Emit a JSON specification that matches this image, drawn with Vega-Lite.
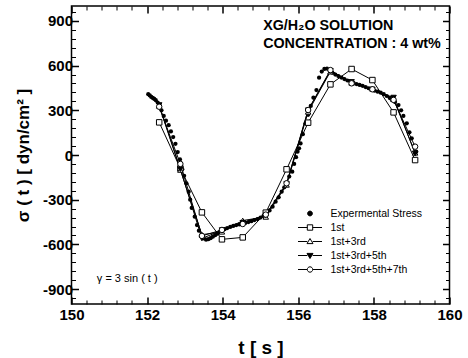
{
  "$schema": "https://vega.github.io/schema/vega-lite/v6.json",
  "autosize": "none",
  "width": 378,
  "height": 298,
  "padding": {"left": 71.5, "top": 6, "right": 18.5, "bottom": 54},
  "background": "white",
  "config": {
    "view": {"stroke": "black", "strokeWidth": 1.5},
    "font": "Liberation Sans",
    "axis": {"grid": false, "domain": false, "tickColor": "black", "labelColor": "black", "titleColor": "black", "labelFont": "Liberation Sans", "titleFont": "Liberation Sans", "labelFlush": false}
  },
  "datasets": {
    "exp": [
      {"t": 152.03, "sigma": 408}, {"t": 152.07, "sigma": 400}, {"t": 152.11, "sigma": 390}, {"t": 152.15, "sigma": 383},
      {"t": 152.19, "sigma": 376}, {"t": 152.23, "sigma": 368}, {"t": 152.28, "sigma": 352}, {"t": 152.33, "sigma": 330},
      {"t": 152.38, "sigma": 300}, {"t": 152.44, "sigma": 262}, {"t": 152.50, "sigma": 230}, {"t": 152.57, "sigma": 200},
      {"t": 152.63, "sigma": 158}, {"t": 152.69, "sigma": 120}, {"t": 152.75, "sigma": 75}, {"t": 152.81, "sigma": 20},
      {"t": 152.87, "sigma": -30}, {"t": 152.93, "sigma": -95}, {"t": 152.98, "sigma": -140}, {"t": 153.04, "sigma": -190},
      {"t": 153.10, "sigma": -246}, {"t": 153.14, "sigma": -300}, {"t": 153.18, "sigma": -355}, {"t": 153.26, "sigma": -414},
      {"t": 153.32, "sigma": -470}, {"t": 153.37, "sigma": -508}, {"t": 153.43, "sigma": -541}, {"t": 153.50, "sigma": -560},
      {"t": 153.56, "sigma": -568}, {"t": 153.62, "sigma": -565}, {"t": 153.68, "sigma": -558}, {"t": 153.74, "sigma": -548},
      {"t": 153.80, "sigma": -538}, {"t": 153.86, "sigma": -528}, {"t": 153.92, "sigma": -518}, {"t": 153.98, "sigma": -508},
      {"t": 154.05, "sigma": -498}, {"t": 154.12, "sigma": -490}, {"t": 154.20, "sigma": -483}, {"t": 154.28, "sigma": -476},
      {"t": 154.36, "sigma": -470}, {"t": 154.44, "sigma": -466}, {"t": 154.52, "sigma": -462}, {"t": 154.60, "sigma": -456},
      {"t": 154.68, "sigma": -450}, {"t": 154.76, "sigma": -444}, {"t": 154.84, "sigma": -437}, {"t": 154.92, "sigma": -430},
      {"t": 155.00, "sigma": -420}, {"t": 155.08, "sigma": -408}, {"t": 155.16, "sigma": -393}, {"t": 155.24, "sigma": -372},
      {"t": 155.32, "sigma": -347}, {"t": 155.40, "sigma": -313}, {"t": 155.48, "sigma": -284}, {"t": 155.56, "sigma": -246},
      {"t": 155.63, "sigma": -217}, {"t": 155.69, "sigma": -186}, {"t": 155.76, "sigma": -145}, {"t": 155.84, "sigma": -112},
      {"t": 155.89, "sigma": -60}, {"t": 155.94, "sigma": -15}, {"t": 155.98, "sigma": 22}, {"t": 156.02, "sigma": 45},
      {"t": 156.06, "sigma": 78}, {"t": 156.12, "sigma": 140}, {"t": 156.19, "sigma": 213}, {"t": 156.26, "sigma": 270},
      {"t": 156.33, "sigma": 329}, {"t": 156.40, "sigma": 385}, {"t": 156.48, "sigma": 436}, {"t": 156.55, "sigma": 519},
      {"t": 156.62, "sigma": 560}, {"t": 156.69, "sigma": 578}, {"t": 156.76, "sigma": 580}, {"t": 156.83, "sigma": 568},
      {"t": 156.90, "sigma": 552}, {"t": 156.98, "sigma": 540}, {"t": 157.06, "sigma": 530}, {"t": 157.14, "sigma": 520},
      {"t": 157.22, "sigma": 510}, {"t": 157.30, "sigma": 500}, {"t": 157.38, "sigma": 492}, {"t": 157.46, "sigma": 484},
      {"t": 157.54, "sigma": 476}, {"t": 157.62, "sigma": 470}, {"t": 157.70, "sigma": 464}, {"t": 157.78, "sigma": 456},
      {"t": 157.86, "sigma": 448}, {"t": 157.94, "sigma": 440}, {"t": 158.02, "sigma": 432}, {"t": 158.10, "sigma": 425},
      {"t": 158.18, "sigma": 418}, {"t": 158.26, "sigma": 408}, {"t": 158.34, "sigma": 396}, {"t": 158.42, "sigma": 382},
      {"t": 158.49, "sigma": 368}, {"t": 158.56, "sigma": 355}, {"t": 158.65, "sigma": 335}, {"t": 158.72, "sigma": 300},
      {"t": 158.78, "sigma": 262}, {"t": 158.87, "sigma": 213}, {"t": 158.94, "sigma": 152}, {"t": 159.00, "sigma": 112},
      {"t": 159.07, "sigma": 62}, {"t": 159.12, "sigma": 22}
    ],
    "fit": [
      {"series": "1st", "t": 152.32, "sigma": 219}, {"series": "1st", "t": 152.88, "sigma": -90},
      {"series": "1st", "t": 153.45, "sigma": -385}, {"series": "1st", "t": 153.98, "sigma": -566},
      {"series": "1st", "t": 154.53, "sigma": -553}, {"series": "1st", "t": 155.14, "sigma": -387},
      {"series": "1st", "t": 155.69, "sigma": -96}, {"series": "1st", "t": 156.26, "sigma": 217},
      {"series": "1st", "t": 156.85, "sigma": 474}, {"series": "1st", "t": 157.41, "sigma": 577},
      {"series": "1st", "t": 157.96, "sigma": 503}, {"series": "1st", "t": 158.52, "sigma": 286},
      {"series": "1st", "t": 159.09, "sigma": -34},
      {"series": "1st+3rd", "t": 152.32, "sigma": 330}, {"series": "1st+3rd", "t": 152.88, "sigma": -100},
      {"series": "1st+3rd", "t": 153.45, "sigma": -535}, {"series": "1st+3rd", "t": 153.98, "sigma": -515},
      {"series": "1st+3rd", "t": 154.53, "sigma": -440}, {"series": "1st+3rd", "t": 155.14, "sigma": -415},
      {"series": "1st+3rd", "t": 155.69, "sigma": -200}, {"series": "1st+3rd", "t": 156.26, "sigma": 290},
      {"series": "1st+3rd", "t": 156.85, "sigma": 560}, {"series": "1st+3rd", "t": 157.41, "sigma": 485},
      {"series": "1st+3rd", "t": 157.96, "sigma": 445}, {"series": "1st+3rd", "t": 158.52, "sigma": 375},
      {"series": "1st+3rd", "t": 159.09, "sigma": 15},
      {"series": "1st+3rd+5th", "t": 152.32, "sigma": 335}, {"series": "1st+3rd+5th", "t": 152.88, "sigma": -95},
      {"series": "1st+3rd+5th", "t": 153.45, "sigma": -560}, {"series": "1st+3rd+5th", "t": 153.98, "sigma": -505},
      {"series": "1st+3rd+5th", "t": 154.53, "sigma": -455}, {"series": "1st+3rd+5th", "t": 155.14, "sigma": -405},
      {"series": "1st+3rd+5th", "t": 155.69, "sigma": -195}, {"series": "1st+3rd+5th", "t": 156.26, "sigma": 300},
      {"series": "1st+3rd+5th", "t": 156.85, "sigma": 565}, {"series": "1st+3rd+5th", "t": 157.41, "sigma": 490},
      {"series": "1st+3rd+5th", "t": 157.96, "sigma": 440}, {"series": "1st+3rd+5th", "t": 158.52, "sigma": 385},
      {"series": "1st+3rd+5th", "t": 159.09, "sigma": 10},
      {"series": "1st+3rd+5th+7th", "t": 152.32, "sigma": 324}, {"series": "1st+3rd+5th+7th", "t": 152.88, "sigma": -60},
      {"series": "1st+3rd+5th+7th", "t": 153.45, "sigma": -543}, {"series": "1st+3rd+5th+7th", "t": 153.98, "sigma": -503},
      {"series": "1st+3rd+5th+7th", "t": 154.53, "sigma": -463}, {"series": "1st+3rd+5th+7th", "t": 155.14, "sigma": -400},
      {"series": "1st+3rd+5th+7th", "t": 155.69, "sigma": -190}, {"series": "1st+3rd+5th+7th", "t": 156.26, "sigma": 302},
      {"series": "1st+3rd+5th+7th", "t": 156.85, "sigma": 570}, {"series": "1st+3rd+5th+7th", "t": 157.41, "sigma": 481},
      {"series": "1st+3rd+5th+7th", "t": 157.96, "sigma": 441}, {"series": "1st+3rd+5th+7th", "t": 158.52, "sigma": 370},
      {"series": "1st+3rd+5th+7th", "t": 159.09, "sigma": 56}
    ],
    "legend": [
      {"series": "Expermental Stress"}, {"series": "1st"}, {"series": "1st+3rd"}, {"series": "1st+3rd+5th"}, {"series": "1st+3rd+5th+7th"}
    ],
    "notes": [
      {"t": 155.07, "sigma": 839, "label": "XG/H₂O  SOLUTION", "kind": "head"},
      {"t": 155.07, "sigma": 718, "label": "CONCENTRATION : 4 wt%", "kind": "head"},
      {"t": 150.67, "sigma": -852, "label": "γ = 3 sin ( t )", "kind": "eq"}
    ]
  },
  "resolve": {
    "axis": {"x": "independent", "y": "independent"},
    "scale": {"shape": "independent", "fill": "independent", "stroke": "independent"}
  },
  "layer": [
    {
      "data": {"name": "exp"},
      "mark": {"type": "circle", "size": 18, "color": "black", "opacity": 1},
      "encoding": {
        "x": {"field": "t", "type": "quantitative", "scale": {"domain": [150, 160], "nice": false, "zero": false},
          "axis": {"orient": "bottom", "values": [150, 152, 154, 156, 158, 160], "tickSize": -7, "tickWidth": 1.5,
            "labelFontSize": 15, "labelFontWeight": "bold", "labelPadding": 10,
            "title": "t [ s ]", "titleFontSize": 19, "titleFontWeight": "bold", "titlePadding": 16}},
        "y": {"field": "sigma", "type": "quantitative", "scale": {"domain": [-1000, 1000], "nice": false, "zero": false},
          "axis": {"orient": "left", "values": [-900, -600, -300, 0, 300, 600, 900], "tickSize": -7, "tickWidth": 1.5,
            "labelFontSize": 15, "labelFontWeight": "bold", "labelPadding": 6, "labelExpr": "'' + datum.value",
            "title": "σ ( t )  [ dyn/cm² ]", "titleFontSize": 17, "titleFontWeight": "bold", "titlePadding": 10}}
      }
    },
    {
      "data": {"name": "fit"},
      "mark": {"type": "line", "color": "black", "strokeWidth": 1},
      "encoding": {
        "x": {"field": "t", "type": "quantitative",
          "axis": {"orient": "bottom", "values": [150.4, 150.8, 151.2, 151.6, 152.4, 152.8, 153.2, 153.6, 154.4, 154.8, 155.2, 155.6, 156.4, 156.8, 157.2, 157.6, 158.4, 158.8, 159.2, 159.6],
            "tickSize": -4, "tickWidth": 1, "labels": false, "title": null}},
        "y": {"field": "sigma", "type": "quantitative",
          "axis": {"orient": "left", "values": [-960, -840, -780, -720, -660, -540, -480, -420, -360, -240, -180, -120, -60, 60, 120, 180, 240, 360, 420, 480, 540, 660, 720, 780, 840, 960],
            "tickSize": -4, "tickWidth": 1, "labels": false, "title": null}},
        "detail": {"field": "series"},
        "order": {"field": "t", "type": "quantitative"}
      }
    },
    {
      "data": {"name": "fit"},
      "mark": {"type": "point", "filled": true, "size": 30, "stroke": "black", "strokeWidth": 1, "opacity": 1},
      "encoding": {
        "x": {"field": "t", "type": "quantitative",
          "axis": {"orient": "top", "values": [150, 152, 154, 156, 158, 160], "tickSize": -7, "tickWidth": 1.5, "labels": false, "title": null}},
        "y": {"field": "sigma", "type": "quantitative",
          "axis": {"orient": "right", "values": [-900, -600, -300, 0, 300, 600, 900], "tickSize": -7, "tickWidth": 1.5, "labels": false, "title": null}},
        "shape": {"field": "series", "type": "nominal", "legend": null,
          "scale": {"domain": ["1st", "1st+3rd", "1st+3rd+5th", "1st+3rd+5th+7th"], "range": ["square", "triangle-up", "triangle-down", "circle"]}},
        "fill": {"field": "series", "type": "nominal", "legend": null,
          "scale": {"domain": ["1st", "1st+3rd", "1st+3rd+5th", "1st+3rd+5th+7th"], "range": ["white", "white", "black", "white"]}}
      }
    },
    {
      "data": {"name": "legend"},
      "mark": {"type": "point", "filled": true, "strokeWidth": 1, "opacity": 0},
      "encoding": {
        "x": {"datum": 151, "type": "quantitative",
          "axis": {"orient": "top", "values": [150.4, 150.8, 151.2, 151.6, 152.4, 152.8, 153.2, 153.6, 154.4, 154.8, 155.2, 155.6, 156.4, 156.8, 157.2, 157.6, 158.4, 158.8, 159.2, 159.6],
            "tickSize": -4, "tickWidth": 1, "labels": false, "title": null}},
        "y": {"datum": 0, "type": "quantitative",
          "axis": {"orient": "right", "values": [-960, -840, -780, -720, -660, -540, -480, -420, -360, -240, -180, -120, -60, 60, 120, 180, 240, 360, 420, 480, 540, 660, 720, 780, 840, 960],
            "tickSize": -4, "tickWidth": 1, "labels": false, "title": null}},
        "shape": {"field": "series", "type": "nominal",
          "scale": {"domain": ["Expermental Stress", "1st", "1st+3rd", "1st+3rd+5th", "1st+3rd+5th+7th"],
            "range": [
              "M-0.4,0A0.4,0.4,0,1,1,0.4,0A0.4,0.4,0,1,1,-0.4,0Z",
              "M-2,0H-0.45M0.45,0H2M-0.45,-0.45H0.45V0.45H-0.45Z",
              "M-2,0H-0.45M0.45,0H2M0,-0.5L0.5,0.35H-0.5Z",
              "M-2,0H-0.45M0.45,0H2M0,0.5L0.5,-0.35H-0.5Z",
              "M-2,0H-0.45M0.45,0H2M-0.45,0A0.45,0.45,0,1,1,0.45,0A0.45,0.45,0,1,1,-0.45,0Z"
            ]},
          "legend": {"title": null, "orient": "none", "legendX": 232, "legendY": 201, "symbolSize": 144,
            "symbolOpacity": 1, "symbolStrokeWidth": 1,
            "labelFont": "Liberation Sans", "labelFontSize": 10.5, "labelColor": "black", "labelOffset": 14, "rowPadding": 2, "padding": 0}},
        "fill": {"field": "series", "type": "nominal",
          "scale": {"domain": ["Expermental Stress", "1st", "1st+3rd", "1st+3rd+5th", "1st+3rd+5th+7th"], "range": ["black", "white", "white", "black", "white"]},
          "legend": {"title": null, "orient": "none", "legendX": 232, "legendY": 201, "symbolSize": 144,
            "symbolOpacity": 1, "symbolStrokeWidth": 1,
            "labelFont": "Liberation Sans", "labelFontSize": 10.5, "labelColor": "black", "labelOffset": 14, "rowPadding": 2, "padding": 0}},
        "stroke": {"field": "series", "type": "nominal",
          "scale": {"domain": ["Expermental Stress", "1st", "1st+3rd", "1st+3rd+5th", "1st+3rd+5th+7th"], "range": ["black", "black", "black", "black", "black"]},
          "legend": {"title": null, "orient": "none", "legendX": 232, "legendY": 201, "symbolSize": 144,
            "symbolOpacity": 1, "symbolStrokeWidth": 1,
            "labelFont": "Liberation Sans", "labelFontSize": 10.5, "labelColor": "black", "labelOffset": 14, "rowPadding": 2, "padding": 0}}
      }
    },
    {
      "data": {"name": "notes"},
      "transform": [{"filter": "datum.kind == 'head'"}],
      "mark": {"type": "text", "align": "left", "baseline": "alphabetic", "font": "Liberation Sans", "fontWeight": "bold", "fontSize": 14.3, "color": "black"},
      "encoding": {
        "x": {"field": "t", "type": "quantitative", "axis": null},
        "y": {"field": "sigma", "type": "quantitative", "axis": null},
        "text": {"field": "label"}
      }
    },
    {
      "data": {"name": "notes"},
      "transform": [{"filter": "datum.kind == 'eq'"}],
      "mark": {"type": "text", "align": "left", "baseline": "alphabetic", "font": "Liberation Sans", "fontSize": 11, "color": "black"},
      "encoding": {
        "x": {"field": "t", "type": "quantitative", "axis": null},
        "y": {"field": "sigma", "type": "quantitative", "axis": null},
        "text": {"field": "label"}
      }
    }
  ]
}
